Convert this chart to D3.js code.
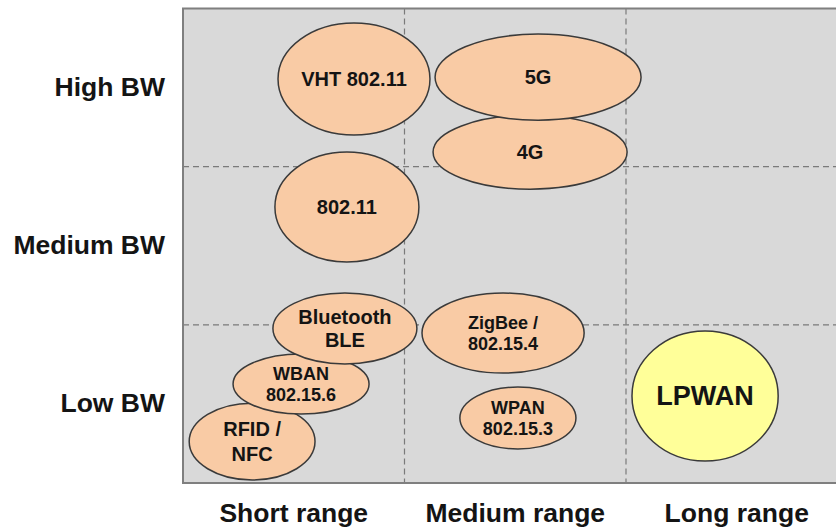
<!DOCTYPE html>
<html>
<head>
<meta charset="utf-8">
<script src="https://cdn.jsdelivr.net/npm/d3@7"></script>
<style>
  html, body { margin: 0; padding: 0; background: #ffffff; }
  svg { display: block; }
  text { font-family: "Liberation Sans", Arial, sans-serif; font-weight: bold; fill: #141414; }
</style>
</head>
<body>
<svg id="chart" width="836" height="529"></svg>
<script>
// ---- data ----
const rangeCategories = ["Short range", "Medium range", "Long range"];
const bandwidthCategories = ["Low BW", "Medium BW", "High BW"];

// technology names (lines separated by "\n")
const techNames = [
  "RFID /\nNFC",
  "WBAN\n802.15.6",
  "Bluetooth\nBLE",
  "802.11",
  "VHT 802.11",
  "4G",
  "5G",
  "ZigBee /\n802.15.4",
  "WPAN\n802.15.3",
  "LPWAN"
];
// range position (0..3 = short..long) and bandwidth position (0..3 = low..high)
const techRange     = [0.312, 0.533, 0.731, 0.740, 0.772, 1.567, 1.603, 1.445, 1.512, 2.357];
const techBandwidth = [0.262, 0.626, 0.977, 1.745, 2.554, 2.092, 2.566, 0.948, 0.411, 0.550];
// extent of each technology in range / bandwidth units
const techRangeSpread     = [0.284, 0.307, 0.325, 0.325, 0.343, 0.438, 0.465, 0.366, 0.262, 0.330];
const techBandwidthSpread = [0.243, 0.190, 0.224, 0.348, 0.354, 0.234, 0.272, 0.253, 0.196, 0.411];
// highlighted technology
const highlighted = ["LPWAN"];

// ---- layout ----
const svg = d3.select("#chart");
const plot = { left: 183, top: 8.5, right: 847.5, bottom: 483 };

const x = d3.scaleLinear().domain([0, rangeCategories.length]).range([plot.left, plot.right]);
const y = d3.scaleLinear().domain([0, bandwidthCategories.length]).range([plot.bottom, plot.top]);

// background
svg.append("rect")
  .attr("x", plot.left).attr("y", plot.top)
  .attr("width", plot.right - plot.left).attr("height", plot.bottom - plot.top)
  .attr("fill", "#d9d9d9");

// dashed grid separators
const grid = svg.append("g")
  .attr("stroke", "#7a7a7a").attr("stroke-width", 1.2).attr("stroke-dasharray", "6,4");
d3.range(1, rangeCategories.length).forEach(i => {
  grid.append("line").attr("x1", x(i)).attr("x2", x(i)).attr("y1", plot.top).attr("y2", plot.bottom);
});
d3.range(1, bandwidthCategories.length).forEach(i => {
  grid.append("line").attr("x1", plot.left).attr("x2", plot.right).attr("y1", y(i)).attr("y2", y(i));
});

// border
svg.append("rect")
  .attr("x", plot.left).attr("y", plot.top)
  .attr("width", plot.right - plot.left).attr("height", plot.bottom - plot.top)
  .attr("fill", "none").attr("stroke", "#7f7f7f").attr("stroke-width", 2);

// technologies
const techs = techNames.map((name, i) => ({
  name,
  r: techRange[i], b: techBandwidth[i],
  dr: techRangeSpread[i], db: techBandwidthSpread[i],
  hi: highlighted.includes(name)
}));

const fontSizeFor = d => d.hi ? 27 : (d.name.includes("802.15") ? 18 : 20);

const g = svg.append("g");
const nodes = g.selectAll("g.tech").data(techs).join("g").attr("class", "tech");

nodes.append("ellipse")
  .attr("cx", d => x(d.r))
  .attr("cy", d => y(d.b))
  .attr("rx", d => x(d.dr) - x(0))
  .attr("ry", d => y(0) - y(d.db))
  .attr("fill", d => d.hi ? "#ffff99" : "#f9cba5")
  .attr("stroke", "#3a3a3a")
  .attr("stroke-width", 1.5);

nodes.each(function(d) {
  const lines = d.name.split("\n");
  const fs = fontSizeFor(d);
  const lh = fs * (d.name.startsWith("RFID") ? 1.25 : (fs === 20 ? 1.15 : 1.18));
  const t = d3.select(this).append("text")
    .attr("text-anchor", "middle")
    .attr("font-size", fs);
  lines.forEach((ln, k) => {
    t.append("tspan")
      .attr("x", x(d.r))
      .attr("y", y(d.b) + (k - (lines.length - 1) / 2) * lh)
      .attr("dy", "0.35em")
      .text(ln);
  });
});

// axis labels
svg.append("g").selectAll("text").data(bandwidthCategories).join("text")
  .attr("x", 165)
  .attr("y", (d, i) => y(i + 0.5) - 1)
  .attr("dy", "0.35em")
  .attr("text-anchor", "end")
  .attr("font-size", 26.5)
  .text(d => d);

svg.append("g").selectAll("text").data(rangeCategories).join("text")
  .attr("x", (d, i) => x(i + 0.5))
  .attr("y", 513)
  .attr("dy", "0.35em")
  .attr("text-anchor", "middle")
  .attr("font-size", 26.5)
  .text(d => d);
</script>
</body>
</html>
